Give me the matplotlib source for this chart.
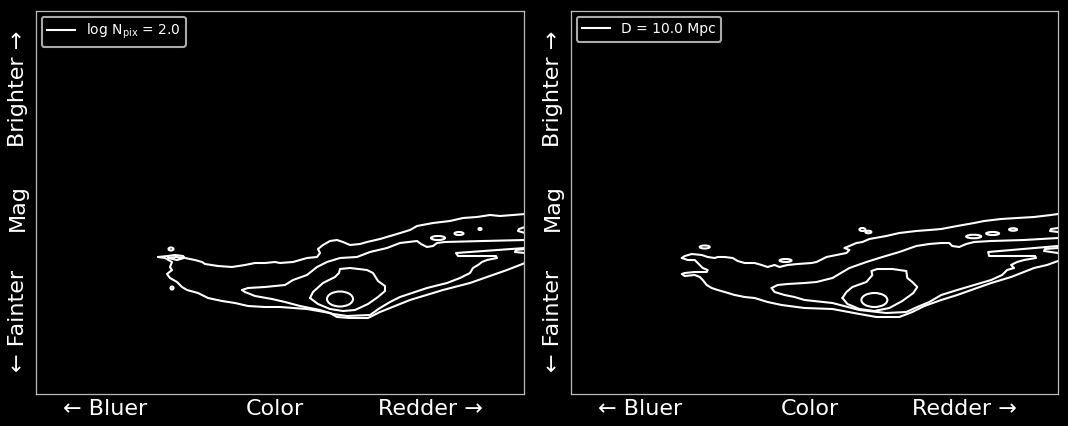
import matplotlib
matplotlib.use("Agg")
import matplotlib.pyplot as plt
from matplotlib.patches import Ellipse

# ---------------- data (colour index, magnitude in arbitrary chart units) -------------
legend_labels = [r"$\log\,\mathrm{N}_{\mathrm{pix}}$ = 2.0", "D = 10.0 Mpc"]
x_label_parts = ["\u2190 Bluer", "Color", "Redder \u2192"]
y_label_parts = ["\u2190 Fainter", "Mag", "Brighter \u2192"]

# ---- left panel contours ----
L_outer_top = [(158, 257), (168, 256), (175, 255), (183, 256), (185, 258), (195, 260), (202, 262),
               (205, 264), (218, 266), (232, 267), (245, 265), (255, 263), (265, 263), (275, 262),
               (280, 263), (293, 262), (307, 258), (317, 257), (320, 253), (318, 249), (323, 245),
               (330, 241), (337, 240), (343, 242), (350, 245), (360, 244), (367, 242), (380, 239),
               (397, 234), (410, 230), (417, 226), (433, 223), (450, 221), (463, 218), (477, 217),
               (490, 215), (500, 216), (513, 215), (525, 214)]
L_outer_bottom = [(158, 257), (165, 258), (172, 262), (170, 267), (172, 270), (167, 274), (170, 278),
                  (177, 282), (182, 287), (187, 290), (198, 293), (208, 298), (222, 301), (235, 303),
                  (248, 306), (265, 307), (280, 307), (307, 309), (330, 313), (337, 317), (350, 318),
                  (368, 318), (380, 312), (410, 300), (443, 290), (470, 283), (487, 277), (507, 270),
                  (525, 263)]
L_tip_loop = [(168, 258), (176, 257), (184, 258), (177, 260), (168, 258)]
L_mid_top = [(242, 290), (248, 288), (265, 287), (285, 285), (293, 280), (307, 275), (317, 267),
             (327, 262), (340, 258), (357, 257), (370, 252), (387, 248), (400, 243), (417, 241),
             (421, 244), (427, 247), (433, 246), (437, 243), (445, 242), (483, 241), (525, 240)]
L_mid_bottom = [(242, 290), (245, 292), (255, 296), (272, 299), (285, 302), (300, 306), (320, 310),
                (333, 314), (347, 316), (370, 315), (380, 308), (390, 302), (400, 297), (427, 288),
                (447, 283), (460, 278), (470, 273), (473, 268), (478, 265), (482, 262), (487, 260),
                (497, 258), (496, 256), (458, 256), (456, 253), (525, 248)]
L_core = [(310, 298), (313, 292), (323, 283), (335, 277), (339, 273), (340, 269), (350, 268),
          (367, 270), (373, 273), (378, 281), (385, 286), (385, 291), (378, 297), (368, 304),
          (355, 310), (343, 311), (330, 309), (318, 304), (310, 298)]
L_edge_arcs = [[(525, 227), (519, 229), (518, 231), (525, 233)],
               [(525, 249), (516, 250), (515, 252), (525, 253)]]
L_peak = (340, 299, 26, 15)
L_islands = [(171, 249, 5, 3), (172, 288, 3, 3), (438, 238, 14, 4), (459, 233.5, 9, 3), (480, 229, 3, 2)]

# ---- right panel contours ----
R_outer_top = [(147, 258), (150, 256), (157, 254), (167, 255), (173, 257), (180, 258), (183, 257),
               (190, 257), (198, 258), (203, 261), (210, 263), (220, 263), (227, 265), (233, 267),
               (240, 265), (245, 267), (253, 265), (263, 264), (277, 263), (282, 262), (292, 257),
               (302, 255), (312, 253), (315, 250), (310, 248), (315, 246), (322, 243), (328, 242),
               (335, 239), (352, 236), (365, 233), (382, 231), (395, 230), (407, 229), (423, 226),
               (440, 223), (450, 221), (467, 219), (483, 218), (500, 217), (517, 215), (524, 214)]
R_outer_bottom = [(147, 258), (153, 260), (160, 260), (163, 263), (168, 268), (173, 270), (172, 272),
                  (160, 272), (150, 273), (147, 274), (150, 276), (160, 275), (165, 277), (168, 280),
                  (172, 285), (177, 288), (183, 290), (190, 292), (200, 295), (210, 297), (220, 298),
                  (233, 302), (247, 305), (270, 308), (298, 309), (325, 314), (342, 317), (365, 317),
                  (378, 312), (390, 306), (407, 300), (423, 295), (440, 289), (457, 283), (477, 277),
                  (500, 268), (513, 265), (524, 261)]
R_mid_top = [(237, 288), (243, 285), (253, 284), (270, 283), (282, 282), (298, 278), (315, 268),
             (332, 262), (348, 257), (365, 252), (382, 246), (395, 244), (407, 243), (415, 243),
             (418, 246), (425, 247), (432, 244), (440, 242), (457, 241), (490, 240), (524, 238)]
R_mid_bottom = [(237, 288), (240, 292), (250, 295), (260, 297), (270, 300), (298, 303), (325, 310),
                (352, 313), (372, 312), (383, 307), (395, 302), (407, 295), (423, 290), (440, 285),
                (457, 280), (468, 275), (473, 270), (480, 268), (477, 265), (483, 262), (490, 260),
                (502, 258), (501, 256), (455, 256), (454, 252), (524, 246)]
R_core = [(308, 298), (312, 292), (318, 287), (332, 282), (338, 275), (337, 271), (343, 269),
          (358, 269), (372, 271), (373, 278), (378, 282), (383, 287), (379, 293), (368, 301),
          (355, 308), (340, 311), (325, 309), (313, 304), (308, 298)]
R_edge_arcs = [[(524, 228), (517, 229), (516, 231), (524, 232)],
               [(524, 248), (511, 249), (510, 251), (524, 253)]]
R_peak = (340, 300, 26, 14)
R_islands = [(170, 247, 10, 3), (251, 260.5, 12, 3), (328, 229.5, 6, 3), (334, 232, 6, 2.5),
             (439.5, 236.5, 15, 3.5), (458.5, 233.5, 13, 3), (479, 229.5, 8, 2.5)]

panels = [
    dict(lines=[L_outer_top, L_outer_bottom, L_tip_loop, L_mid_top, L_mid_bottom, L_core] + L_edge_arcs,
         peak=L_peak, islands=L_islands, label=legend_labels[0]),
    dict(lines=[R_outer_top, R_outer_bottom, R_mid_top, R_mid_bottom, R_core] + R_edge_arcs,
         peak=R_peak, islands=R_islands, label=legend_labels[1]),
]

# ---------------- figure ----------------
W, H = 1068, 426
fig = plt.figure(figsize=(W / 100, H / 100), dpi=100, facecolor="black")
rects = [[36 / W, 32 / H, 488 / W, 383 / H], [571 / W, 32 / H, 487 / W, 383 / H]]

LW = 1.5
for rect, p in zip(rects, panels):
    ax = fig.add_axes(rect)
    ax.set_facecolor("black")
    for line in p["lines"]:
        xs = [q[0] for q in line]
        ys = [q[1] for q in line]
        ax.plot(xs, ys, color="white", lw=LW, solid_joinstyle="round", solid_capstyle="round")
    cx, cy, w, h = p["peak"]
    ax.add_patch(Ellipse((cx, cy), w, h, fill=False, edgecolor="white", lw=LW))
    for (cx, cy, w, h) in p["islands"]:
        ax.add_patch(Ellipse((cx, cy), w, h, fill=False, edgecolor="white", lw=LW))
    ax.plot([], [], color="white", lw=LW, label=p["label"])
    ax.set_xlim(36, 524)
    ax.set_ylim(394, 11)
    ax.set_xticks([])
    ax.set_yticks([])
    for s in ax.spines.values():
        s.set_color("#bbbbbb")
        s.set_linewidth(0.9)
    leg = ax.legend(loc="upper left", fontsize=10, facecolor="black", edgecolor="#aaaaaa",
                    labelcolor="white", framealpha=1, borderaxespad=0.4)
    leg.get_frame().set_linewidth(1.5)

    tk = dict(color="white", fontsize=16, transform=ax.transAxes)
    ax.text(0.055, -0.039, x_label_parts[0], ha="left", va="center", **tk)
    ax.text(0.49, -0.039, x_label_parts[1], ha="center", va="center", **tk)
    ax.text(0.916, -0.039, x_label_parts[2], ha="right", va="center", **tk)
    ax.text(-0.037, 0.057, y_label_parts[0], ha="center", va="bottom", rotation=90, **tk)
    ax.text(-0.037, 0.488, y_label_parts[1], ha="center", va="center", rotation=90, **tk)
    ax.text(-0.037, 0.95, y_label_parts[2], ha="center", va="top", rotation=90, **tk)

fig.savefig("out.png", dpi=100, facecolor="black")
